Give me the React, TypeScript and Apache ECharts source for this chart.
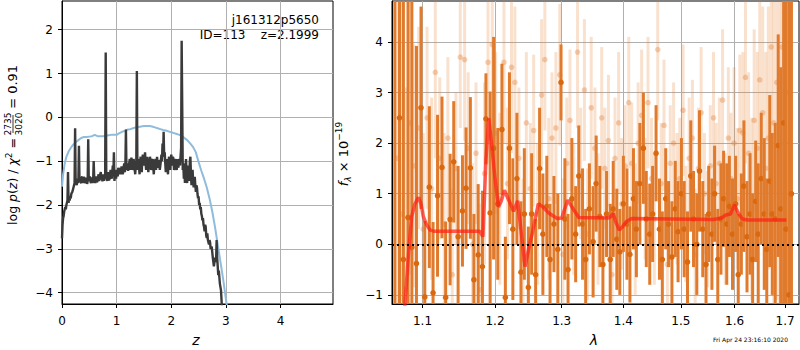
import React, { useEffect, useRef } from "react";
import * as echarts from "echarts";

// ---------- left panel: log p(z) ----------
const zTicks = [0, 1, 2, 3, 4];
const pzTicks = [-4, -3, -2, -1, 0, 1, 2];

const pzCurve: [number, number][] = [
  [0.0, -2.76], [0.01, -2.45], [0.02, -2.3], [0.03, -2.25], [0.04, -2.15], [0.05, -2.1], [0.06, -2.05],
  [0.07, -2.1], [0.08, -2.0], [0.09, -1.95], [0.1, -1.9], [0.11, -1.25], [0.12, -1.95], [0.13, -1.85],
  [0.14, -1.9], [0.15, -1.8], [0.16, -1.85], [0.17, -1.75], [0.18, -1.72], [0.19, -1.7], [0.2, -1.65], [0.21, -1.6], [0.22, -1.55], [0.23, -1.5],
  [0.24, -0.25], [0.25, -1.5], [0.26, -1.45], [0.27, -1.55], [0.28, -1.4], [0.29, -1.5], [0.3, -1.45],
  [0.31, -0.65], [0.32, -1.45], [0.33, -1.4], [0.34, -1.48], [0.35, -1.5], [0.36, -1.38], [0.37, -1.35], [0.38, -1.5], [0.39, -1.45], [0.4, -1.36], [0.41, -1.4],
  [0.42, -1.47], [0.43, -1.5], [0.44, -1.38], [0.45, -1.4], [0.46, -1.52], [0.47, -1.45], [0.48, -0.5], [0.49, -1.45], [0.5, -1.4], [0.51, -1.35], [0.52, -1.46], [0.53, -1.5],
  [0.54, -1.37], [0.55, -1.4], [0.56, -1.5], [0.57, -1.45], [0.58, -1.0], [0.59, -1.4], [0.6, -1.44], [0.61, -1.5], [0.62, -1.38], [0.63, -1.35], [0.64, -1.48], [0.65, -1.45],
  [0.66, -1.36], [0.67, -1.3], [0.68, -1.45], [0.69, -1.4], [0.7, -1.3], [0.71, -1.25], [0.72, -1.42], [0.73, -1.35], [0.74, -1.46], [0.75, -1.3], [0.76, -1.38], [0.77, -1.45], [0.78, -1.34], [0.79, -1.3],
  [0.8, 1.48], [0.81, -1.3], [0.82, -1.4], [0.83, -1.45], [0.84, -1.32], [0.85, -1.25], [0.86, -1.44], [0.87, -1.4], [0.88, -1.28], [0.89, -1.2], [0.9, -1.35], [0.91, -1.4],
  [0.92, -1.25], [0.93, -1.1], [0.94, -1.3], [0.95, -0.8], [0.96, -1.45], [0.97, -1.2], [0.98, -1.3], [0.99, -1.4], [1.0, -1.2], [1.01, -1.28], [1.02, -1.35], [1.03, -1.15], [1.04, -1.2],
  [1.05, -1.3], [1.06, -1.15], [1.07, -1.22], [1.08, -1.3], [1.09, -1.12], [1.1, -1.2], [1.11, -1.3], [1.12, -1.25], [1.13, -1.12], [1.14, -1.05], [1.15, -1.25], [1.16, -1.1], [1.17, -0.28],
  [1.18, -1.2], [1.19, -1.1], [1.2, -1.05], [1.21, -1.22], [1.22, -1.15], [1.23, -1.05], [1.24, -0.95], [1.25, -1.2], [1.26, -1.1], [1.27, -0.92], [1.28, -1.0], [1.29, -1.2], [1.3, -1.15],
  [1.31, -0.95], [1.32, -1.05], [1.33, -1.18], [1.34, -1.3], [1.35, -1.1], [1.36, -1.0], [1.37, 1.06], [1.38, -1.2], [1.39, -1.05], [1.4, -0.95], [1.41, -1.15], [1.42, -1.3],
  [1.43, -1.0], [1.44, -0.9], [1.45, -1.1], [1.46, -1.25], [1.47, -0.95], [1.48, -0.85], [1.49, -1.0], [1.5, -1.1], [1.51, -0.95], [1.52, -0.8], [1.53, -1.05], [1.54, -1.2], [1.55, -1.0], [1.56, -0.9],
  [1.57, -1.1], [1.58, -1.25], [1.59, -1.05], [1.6, -1.1], [1.61, -0.9], [1.62, -1.0], [1.63, -1.2], [1.64, -1.15], [1.65, -0.98], [1.66, -0.95], [1.67, -1.12], [1.68, -1.3], [1.69, -1.1], [1.7, -1.05],
  [1.71, -0.95], [1.72, -1.2], [1.73, -1.05], [1.74, -0.9], [1.75, -1.05], [1.76, -1.15], [1.77, -0.98], [1.78, -1.0], [1.79, -1.2], [1.8, -1.1], [1.81, -0.98], [1.82, -0.85], [1.83, -1.0], [1.84, -0.6],
  [1.85, -0.9], [1.86, -0.33], [1.87, -0.9], [1.88, -0.8], [1.89, -1.05], [1.9, -1.25], [1.91, -1.0], [1.92, -0.95], [1.93, -1.15], [1.94, -1.3], [1.95, -1.0], [1.96, -0.9], [1.97, -1.1], [1.98, -1.2],
  [1.99, -0.95], [2.0, -0.85], [2.01, -1.0], [2.02, -1.1], [2.03, -0.9], [2.04, -0.95], [2.05, -1.2], [2.06, -1.15], [2.07, -0.95], [2.08, -1.0], [2.09, -1.15], [2.1, -1.2], [2.11, -0.95], [2.12, -1.05],
  [2.13, -1.15], [2.14, -1.0], [2.15, -0.95], [2.16, -1.1], [2.18, -0.7], [2.19, 1.75], [2.2, 0.3], [2.21, -1.2], [2.22, -1.05], [2.23, -1.4],
  [2.24, -1.1], [2.25, -1.5], [2.26, -1.2], [2.27, -0.95], [2.28, -1.3], [2.29, -1.5], [2.3, -1.2], [2.31, -1.1], [2.32, -1.35], [2.33, -1.45], [2.34, -1.0], [2.35, -0.9], [2.36, -1.3], [2.37, -1.55],
  [2.38, -1.3], [2.39, -1.2], [2.4, -1.45], [2.41, -1.6], [2.42, -1.4], [2.43, -1.36], [2.44, -1.55], [2.45, -1.7], [2.46, -1.55], [2.47, -1.6], [2.48, -1.75], [2.49, -1.85], [2.5, -1.8], [2.51, -2.0],
  [2.52, -1.95], [2.53, -2.1], [2.54, -2.05], [2.55, -2.2], [2.56, -2.25], [2.57, -2.35], [2.58, -2.3], [2.59, -2.45], [2.6, -2.5], [2.61, -2.6], [2.62, -2.45], [2.63, -2.5], [2.64, -2.7], [2.65, -2.75],
  [2.66, -2.65], [2.67, -2.8], [2.68, -2.85], [2.69, -2.9], [2.7, -2.8], [2.71, -2.85], [2.72, -3.0], [2.74, -2.95], [2.76, -3.2], [2.78, -3.4], [2.8, -3.2],
  [2.82, -3.3], [2.83, -2.8], [2.84, -3.2], [2.86, -3.6], [2.87, -3.5], [2.89, -3.8], [2.91, -3.95], [2.93, -4.4],
];

const pzTemplate: [number, number][] = [
  [0.0, -1.58], [0.02, -1.3], [0.05, -1.05], [0.08, -0.9], [0.12, -0.78], [0.16, -0.7], [0.2, -0.63],
  [0.25, -0.57], [0.3, -0.52], [0.35, -0.47], [0.4, -0.45], [0.45, -0.45], [0.5, -0.44], [0.55, -0.43],
  [0.6, -0.4], [0.65, -0.43], [0.7, -0.43], [0.75, -0.43], [0.8, -0.42], [0.85, -0.41], [0.9, -0.4],
  [0.95, -0.4], [1.0, -0.4], [1.05, -0.36], [1.1, -0.33], [1.15, -0.31], [1.2, -0.28], [1.25, -0.27],
  [1.3, -0.25], [1.35, -0.23], [1.4, -0.22], [1.45, -0.21], [1.5, -0.2], [1.55, -0.2], [1.6, -0.2],
  [1.65, -0.21], [1.7, -0.23], [1.75, -0.25], [1.8, -0.27], [1.85, -0.29], [1.9, -0.3], [1.95, -0.32],
  [2.0, -0.34], [2.05, -0.36], [2.1, -0.38], [2.15, -0.4], [2.2, -0.43], [2.25, -0.48], [2.3, -0.53],
  [2.35, -0.6], [2.4, -0.68], [2.45, -0.8], [2.5, -1.02], [2.55, -1.22], [2.6, -1.4], [2.65, -1.6],
  [2.7, -1.85], [2.75, -2.15], [2.8, -2.5], [2.85, -2.9], [2.9, -3.3], [2.95, -3.7], [3.0, -4.15], [3.05, -4.6],
];

// ---------- right panel: spectrum ----------
const lamTicks = [1.1, 1.2, 1.3, 1.4, 1.5, 1.6, 1.7];
const fluxTicks = [-1, 0, 1, 2, 3, 4];

const darkLam = [
  1.064, 1.07, 1.075, 1.081, 1.086, 1.092, 1.098, 1.103, 1.109, 1.114, 1.12, 1.126, 1.131, 1.137, 1.142,
  1.148, 1.154, 1.159, 1.165, 1.17, 1.176, 1.182, 1.187, 1.193, 1.198, 1.204, 1.21, 1.215, 1.221, 1.226,
  1.232, 1.238, 1.243, 1.249, 1.254, 1.26, 1.266, 1.271, 1.277, 1.282, 1.288, 1.294, 1.299, 1.305, 1.31,
  1.316, 1.322, 1.327, 1.333, 1.338, 1.344, 1.35, 1.355, 1.361, 1.366, 1.372, 1.378, 1.383, 1.389, 1.394,
  1.4, 1.406, 1.411, 1.417, 1.422, 1.428, 1.434, 1.439, 1.445, 1.45, 1.456, 1.462, 1.467, 1.473, 1.478,
  1.484, 1.49, 1.495, 1.501, 1.506, 1.512, 1.518, 1.523, 1.529, 1.534, 1.54, 1.546, 1.551, 1.557, 1.562,
  1.568, 1.574, 1.579, 1.585, 1.59, 1.596, 1.602, 1.607, 1.613, 1.618, 1.624, 1.63, 1.635, 1.641, 1.646,
  1.652, 1.658, 1.663, 1.669, 1.674, 1.68, 1.686, 1.691, 1.697, 1.702, 1.708, 1.713,
];
const darkFlux = [
  -1.5, 2.5, -0.3, 0.53, -0.06, -0.38, 2.7, -1.04, 1.13, -0.96, 0.96, 1.52, -1.05, 0.49, 1.63,
  0.15, 0.66, 1.11, 1.51, -0.7, -0.21, -0.44, 2.48, 0.62, 1.9, 0.8, 2.27, -1.05, 1.9, 0.3,
  1.3, -0.55, 0.6, -0.85, 0.6, -0.6, 1.5, 0.2, 0.75, -0.3, 0.4, -0.1, 3.2, 0.5, -0.5,
  0.9, 0.2, 1.35, 0.4, -0.3, 0.7, 0.05, 1.2, 0.55, -0.4, 0.6, -0.3, 0.7, 0.1, -0.15,
  0.8, 0.4, -0.2, 0.9, 0.3, 1.2, 1.9, 0.5, 0.2, 0.6, 1.8, 0.3, -0.3, 0.9, 0.4,
  -0.25, 0.7, 0.25, 1.0, 0.3, -0.35, 1.35, 0.5, 0.0, 1.45, 0.3, -0.4, 0.6, 0.2, 1.0,
  -0.3, 0.5, 0.9, 0.4, 0.75, 0.2, 0.8, -0.6, 0.4, 1.15, 0.15, 0.6, -0.3, 0.85, 0.2,
  1.3, 0.6, -0.1, 1.25, 0.6, 0.5, 1.95, 0.7, 2.4, 0.3, -1.0, 1.0,
];
const darkErr = [
  9, 8, 7, 6, 5, 4.3, 2.0, 1.5, 1.6, 1.4, 1.6, 1.4, 1.5, 1.3, 1.2,
  1.4, 1.1, 1.2, 1.4, 1.3, 1.4, 1.5, 0.9, 2.4, 2.2, 1.5, 1.3, 1.2, 1.5, 1.4,
  1.3, 1.4, 1.3, 1.2, 1.2, 1.1, 1.2, 1.2, 1.0, 1.1, 0.95, 1.1, 0.75, 1.2, 1.1,
  1.2, 0.95, 1.0, 1.1, 1.0, 0.9, 1.1, 0.95, 1.0, 0.95, 0.85, 1.1, 0.95, 1.0, 0.85,
  0.95, 1.1, 0.95, 1.0, 0.95, 1.2, 1.1, 0.95, 1.0, 0.95, 0.95, 1.0, 0.95, 1.0, 0.85,
  1.1, 0.95, 1.0, 1.1, 0.95, 1.0, 1.1, 0.95, 1.0, 1.2, 0.95, 1.0, 0.95, 1.1, 0.95,
  1.0, 1.1, 0.95, 1.2, 1.0, 1.1, 0.95, 1.2, 1.0, 1.3, 1.1, 1.2, 1.3, 1.2, 1.4,
  1.3, 1.5, 1.4, 1.7, 1.6, 1.9, 2.2, 2.8, 4, 6, 7, 9,
];

const lightLam = [
  1.067, 1.073, 1.078, 1.084, 1.089, 1.095, 1.101, 1.106, 1.112, 1.117, 1.123, 1.129, 1.134, 1.14, 1.145,
  1.151, 1.157, 1.162, 1.168, 1.173, 1.179, 1.185, 1.19, 1.196, 1.201, 1.207, 1.213, 1.218, 1.224, 1.229,
  1.235, 1.241, 1.246, 1.252, 1.257, 1.263, 1.269, 1.274, 1.28, 1.285, 1.291, 1.297, 1.302, 1.308, 1.313,
  1.319, 1.325, 1.33, 1.336, 1.341, 1.347, 1.353, 1.358, 1.364, 1.369, 1.375, 1.381, 1.386, 1.392, 1.397,
  1.403, 1.409, 1.414, 1.42, 1.425, 1.431, 1.437, 1.442, 1.448, 1.453, 1.459, 1.465, 1.47, 1.476, 1.481,
  1.487, 1.493, 1.498, 1.504, 1.509, 1.515, 1.521, 1.526, 1.532, 1.537, 1.543, 1.549, 1.554, 1.56, 1.565,
  1.571, 1.577, 1.582, 1.588, 1.593, 1.599, 1.605, 1.61, 1.616, 1.621, 1.627, 1.633, 1.638, 1.644, 1.649,
  1.655, 1.661, 1.666, 1.672, 1.677, 1.683, 1.689, 1.694, 1.7, 1.705,
];
const lightFlux = [
  1.7, 0.6, -0.9, 2.4, 1.55, 2.3, 0.3, 2.5, 1.1, 3.4, 1.7, 0.4, 2.1, -0.6, 1.5,
  3.7, 3.65, 1.9, 0.0, 1.8, -0.9, 1.4, 3.6, 3.95, 2.2, 0.9, 3.6, 1.2, 3.5, 3.2,
  1.7, -0.3, 2.4, 1.1, 2.25, 0.6, 2.95, 3.65, 0.9, 2.1, 2.3, 3.35, -0.2, 1.6, 2.45,
  0.7, 3.8, 1.4, 3.05, 0.2, 2.7, 1.9, 0.5, 2.5, 1.5, 2.05, -0.6, 1.7, 2.4, 0.8,
  1.55, 2.8, 1.6, 0.3, 2.0, 2.55, 0.9, 2.8, 1.3, 0.5, 3.85, 1.2, 2.35, -0.4, 1.6,
  2.0, 0.9, 1.3, 2.65, 0.4, 1.7, 2.1, -0.2, 1.5, 2.6, 1.0, 0.3, 1.55, 2.5, 1.2,
  1.6, 2.85, 0.5, 2.1, 1.3, 2.0, 0.9, 2.25, 2.2, 3.3, 1.8, 0.7, 2.45, 1.9, 3.25,
  2.6, 1.5, 2.1, 3.9, 2.4, 3.2, 2.6, 3.9, 2.0, 3.0,
];
const lightErr = [
  6, 5, 4, 3, 2.4, 2.0, 1.9, 1.8, 1.8, 1.7, 1.6, 1.8, 1.6, 1.7, 1.5,
  1.4, 1.6, 1.5, 1.6, 1.4, 1.7, 1.8, 2.0, 1.8, 1.6, 1.7, 1.6, 1.5, 1.7, 1.5,
  1.4, 1.6, 1.4, 1.3, 1.5, 1.4, 1.5, 1.4, 1.6, 1.3, 1.5, 1.4, 1.5, 1.3, 1.4,
  1.3, 1.5, 1.3, 1.4, 1.3, 1.4, 1.2, 1.3, 1.4, 1.2, 1.3, 1.4, 1.2, 1.4, 1.3,
  1.2, 1.3, 1.2, 1.3, 1.2, 1.3, 1.2, 1.3, 1.2, 1.3, 1.4, 1.2, 1.3, 1.2, 1.15,
  1.2, 1.3, 1.2, 1.3, 1.15, 1.2, 1.15, 1.3, 1.2, 1.3, 1.2, 1.15, 1.2, 1.3, 1.2,
  1.3, 1.4, 1.3, 1.4, 1.3, 1.5, 1.4, 1.5, 1.6, 1.7, 1.6, 1.8, 1.8, 1.9, 2.0,
  2.1, 2.3, 2.6, 3.0, 3.6, 4.3, 5, 6, 7, 8,
];

const modelLam = [
  1.076, 1.0817, 1.0858, 1.09, 1.0947, 1.098, 1.101, 1.105, 1.11, 1.115, 1.178, 1.1827, 1.187, 1.191,
  1.195, 1.2, 1.205, 1.209, 1.2136, 1.219, 1.224, 1.227, 1.233, 1.237, 1.244, 1.25, 1.255, 1.26, 1.264,
  1.27, 1.28, 1.293, 1.3, 1.3095, 1.318, 1.327, 1.375, 1.379, 1.383, 1.387, 1.393, 1.398, 1.405, 1.414,
  1.56, 1.575, 1.583, 1.592, 1.5995, 1.607, 1.615, 1.625, 1.7027,
];
const modelFlux = [
  -1.4, -0.17, 0.55, 0.8, 0.93, 0.8, 0.55, 0.4, 0.28, 0.26, 0.26, 0.15, 1.67, 2.49,
  2.0, 1.3, 0.74, 0.85, 1.07, 0.9, 0.75, 0.65, 0.86, 0.4, -0.44, -0.05, 0.22, 0.55, 0.8,
  0.75, 0.62, 0.51, 0.52, 0.875, 0.7, 0.53, 0.52, 0.55, 0.61, 0.45, 0.28, 0.34, 0.45, 0.51,
  0.49, 0.52, 0.58, 0.6, 0.78, 0.62, 0.5, 0.48, 0.48,
];

const FONT = "DejaVu Sans";
const minus = (s: string) => s.replace("-", "\u2212");

const makeErrRender = (barColor: string, dotColor: string) => (params: any, api: any) => {
  const x = api.value(0);
  const y = api.value(1);
  const e = api.value(2);
  const p0 = api.coord([x, y + e]);
  const p1 = api.coord([x, y - e]);
  const c = api.coord([x, y]);
  return {
    type: "group",
    children: [
      { type: "rect", shape: { x: p0[0] - 1.5, y: p0[1], width: 3, height: p1[1] - p0[1] }, style: { fill: barColor } },
      { type: "circle", shape: { cx: c[0], cy: c[1], r: 2.8 }, style: { fill: dotColor } },
    ],
  };
};

export default function App() {
  const ref = useRef<HTMLDivElement>(null);
  useEffect(() => {
    if (!ref.current) return;
    const chart = echarts.init(ref.current, null, { renderer: "svg" });
    const axisLine = { show: true, onZero: false, lineStyle: { color: "#000", width: 1 } };
    const tick = { show: true, inside: false, length: 4, lineStyle: { color: "#000", width: 1 } };
    const split = { show: true, lineStyle: { color: "#b0b0b0", width: 1 } };
    const lbl = { color: "#000", fontFamily: FONT, fontSize: 12 };
    const darkData = darkLam.map((l, i) => [Math.log(l), darkFlux[i], darkErr[i]]);
    const lightData = lightLam.map((l, i) => [Math.log(l), lightFlux[i], lightErr[i]]);
    const modelData = modelLam.map((l, i) => [Math.log(l), modelFlux[i]]);
    const lamMin = Math.log(1.0604);
    const lamMax = Math.log(1.7286);

    const option: any = {
      animation: false,
      backgroundColor: "#fff",
      grid: [
        { left: 62, top: 1, width: 271, height: 303, show: true, borderColor: "#000", borderWidth: 1 },
        { left: 392, top: 1, width: 407, height: 303, show: true, borderColor: "#000", borderWidth: 1 },
      ],
      xAxis: [
        {
          type: "value", gridIndex: 0, min: 0, max: 4.96, axisLine, splitLine: split,
          axisTick: { ...tick, customValues: zTicks },
          axisLabel: { ...lbl, customValues: zTicks, margin: 11, formatter: (v: number) => minus(String(v)) },
        },
        {
          type: "value", gridIndex: 1, min: lamMin, max: lamMax, axisLine, splitLine: split,
          axisTick: { ...tick, customValues: lamTicks.map(Math.log) },
          axisLabel: { ...lbl, customValues: lamTicks.map(Math.log), margin: 11, formatter: (v: number) => Math.exp(v).toFixed(1) },
        },
      ],
      yAxis: [
        {
          type: "value", gridIndex: 0, min: -4.26, max: 2.655, axisLine, splitLine: split,
          axisTick: { ...tick, customValues: pzTicks },
          axisLabel: { ...lbl, customValues: pzTicks, margin: 9, formatter: (v: number) => minus(String(v)) },
        },
        {
          type: "value", gridIndex: 1, min: -1.18, max: 4.81, axisLine, splitLine: split,
          axisTick: { ...tick, customValues: fluxTicks },
          axisLabel: { ...lbl, customValues: fluxTicks, margin: 9, formatter: (v: number) => minus(String(v)) },
        },
      ],
      series: [
        {
          type: "line", xAxisIndex: 0, yAxisIndex: 0, data: pzTemplate, showSymbol: false, symbol: "none",
          lineStyle: { color: "#8fbcdc", width: 2 }, clip: true, z: 2,
        },
        {
          type: "line", xAxisIndex: 0, yAxisIndex: 0, data: pzCurve, showSymbol: false, symbol: "none",
          lineStyle: { color: "#3a3a3a", width: 2.4 }, clip: true, z: 3,
        },
        {
          type: "custom", xAxisIndex: 1, yAxisIndex: 1, data: lightData, clip: true, z: 2,
          dimensions: ["x", "y", "e"], encode: { x: 0, y: 1 },
          renderItem: makeErrRender("rgba(232,128,50,0.24)", "rgba(225,115,35,0.32)"),
        },
        {
          type: "custom", xAxisIndex: 1, yAxisIndex: 1, data: darkData, clip: true, z: 3,
          dimensions: ["x", "y", "e"], encode: { x: 0, y: 1 },
          renderItem: makeErrRender("#e07a2c", "#d9680f"),
        },
        {
          type: "line", xAxisIndex: 1, yAxisIndex: 1, data: modelData, showSymbol: false, symbol: "none",
          lineStyle: { color: "rgba(255,30,20,0.7)", width: 3.5 }, clip: true, z: 4,
        },
        {
          type: "line", xAxisIndex: 1, yAxisIndex: 1, data: [], z: 5,
          markLine: {
            silent: true, symbol: "none", label: { show: false },
            lineStyle: { color: "#000", type: [2, 3], width: 2 },
            data: [{ yAxis: 0 }],
          },
        },
      ],
      graphic: [
        { type: "text", x: 319, y: 20, style: { text: "j161312p5650", font: `12px "${FONT}"`, fill: "#000", align: "right", verticalAlign: "middle" } },
        { type: "text", x: 319, y: 35, style: { text: "ID=113    z=2.1999", font: `12px "${FONT}"`, fill: "#000", align: "right", verticalAlign: "middle" } },
        { type: "text", x: 196, y: 340, style: { text: "z", font: `italic 14px "${FONT}"`, fill: "#000", align: "center", verticalAlign: "middle" } },
        { type: "text", x: 594, y: 340, style: { text: "\u03bb", font: `italic 14px "${FONT}"`, fill: "#000", align: "center", verticalAlign: "middle" } },
        { type: "text", x: 788, y: 339, style: { text: "Fri Apr 24 23:16:10 2020", font: `6px "${FONT}"`, fill: "#000", align: "right", verticalAlign: "middle" } },
        {
          type: "group", x: 12, y: 155, rotation: Math.PI / 2,
          children: [
            {
              type: "text", x: 21, y: 0,
              style: {
                text: "{r|log }{i|p}{r|(}{i|z}{r|) / }{i|\u03c7}{s|2}{r| = }",
                align: "right", verticalAlign: "middle", fill: "#000",
                rich: {
                  r: { fontFamily: FONT, fontSize: 12.5, fill: "#000" },
                  i: { fontFamily: FONT, fontSize: 12.5, fontStyle: "italic", fill: "#000" },
                  s: { fontFamily: FONT, fontSize: 9, fill: "#000", verticalAlign: "top", padding: [0, 0, 6, 0] },
                },
              },
            },
            { type: "text", x: 31, y: -4.5, style: { text: "2735", font: `9px "${FONT}"`, fill: "#000", align: "center", verticalAlign: "middle" } },
            { type: "line", shape: { x1: 22, y1: 1, x2: 40, y2: 1 }, style: { stroke: "#000", lineWidth: 0.8 } },
            { type: "text", x: 31, y: 6.5, style: { text: "3020", font: `9px "${FONT}"`, fill: "#000", align: "center", verticalAlign: "middle" } },
            { type: "text", x: 42, y: 0, style: { text: " = 0.91", font: `13px "${FONT}"`, fill: "#000", align: "left", verticalAlign: "middle" } },
          ],
        },
        {
          type: "text", x: 343, y: 154, rotation: Math.PI / 2,
          style: {
            text: "{i|f}{b|\u03bb}{r| \u00d7 10}{t|\u221219}",
            align: "center", verticalAlign: "middle", fill: "#000",
            rich: {
              r: { fontFamily: FONT, fontSize: 13, fill: "#000", lineHeight: 18 },
              i: { fontFamily: FONT, fontSize: 13, fontStyle: "italic", fill: "#000", lineHeight: 18 },
              b: { fontFamily: FONT, fontSize: 9, fontStyle: "italic", fill: "#000", verticalAlign: "bottom", lineHeight: 10 },
              t: { fontFamily: FONT, fontSize: 9, fill: "#000", verticalAlign: "top", lineHeight: 10 },
            },
          },
        },
      ],
    };
    chart.setOption(option);
    return () => chart.dispose();
  }, []);
  return (
    <div
      ref={ref}
      style={{ position: "fixed", left: 0, top: 0, width: 800, height: 350, background: "#fff" }}
    />
  );
}
